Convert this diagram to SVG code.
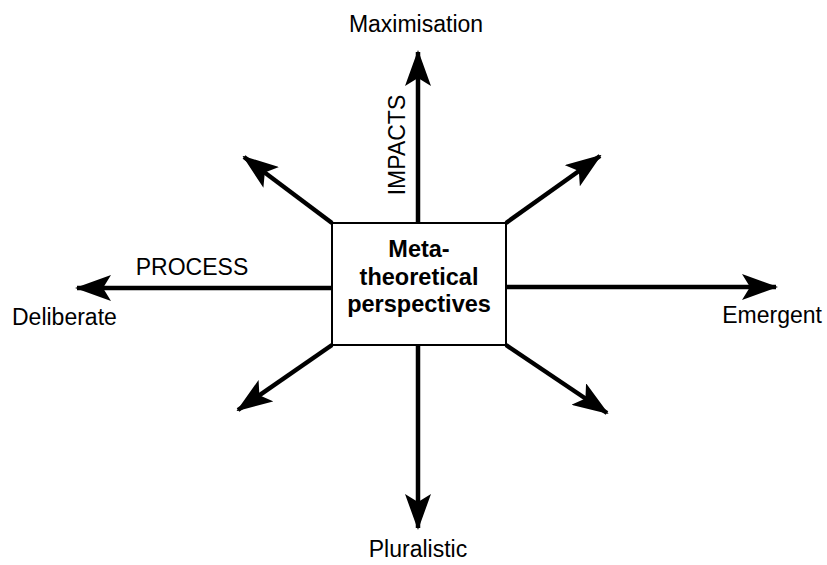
<svg xmlns="http://www.w3.org/2000/svg" width="827" height="565" viewBox="0 0 827 565">
<style>
.t{font-family:"Liberation Sans",Arial,sans-serif;font-size:23px;fill:#000}
.b{font-family:"Liberation Sans",Arial,sans-serif;font-size:23.5px;font-weight:bold;fill:#000}
.s{stroke:#000;stroke-width:4.5;fill:none}
</style>
<defs>
<marker id="ah" markerUnits="userSpaceOnUse" markerWidth="36" markerHeight="26" viewBox="0 0 36 26" refX="34" refY="13" orient="auto">
<path d="M0,0 L36,13 L0,26 L8,13 Z" fill="#000"/>
</marker>
</defs>
<g id="connectors">
<line class="s" x1="418" y1="223" x2="418" y2="52" marker-end="url(#ah)"/>
<line class="s" x1="418" y1="345" x2="418" y2="528" marker-end="url(#ah)"/>
<line class="s" x1="332" y1="288" x2="77" y2="288" marker-end="url(#ah)"/>
<line class="s" x1="506" y1="287" x2="776" y2="287" marker-end="url(#ah)"/>
<line class="s" x1="332" y1="223" x2="244" y2="157" marker-end="url(#ah)"/>
<line class="s" x1="506" y1="223" x2="600" y2="156" marker-end="url(#ah)"/>
<line class="s" x1="332" y1="345" x2="238" y2="410" marker-end="url(#ah)"/>
<line class="s" x1="506" y1="345" x2="607" y2="413" marker-end="url(#ah)"/>
</g>
<g id="center">
<rect x="332" y="223" width="174" height="122" fill="#fff" stroke="#000" stroke-width="2"/>
<text class="b" x="419" y="257" text-anchor="middle">Meta-</text>
<text class="b" x="419" y="285" text-anchor="middle">theoretical</text>
<text class="b" x="419" y="312" text-anchor="middle">perspectives</text>
</g>
<g id="labels">
<text class="t" x="416" y="32" text-anchor="middle">Maximisation</text>
<text class="t" transform="translate(405,145) rotate(-90)" text-anchor="middle">IMPACTS</text>
<text class="t" x="192" y="275" text-anchor="middle">PROCESS</text>
<text class="t" x="12" y="325">Deliberate</text>
<text class="t" x="822" y="323" text-anchor="end">Emergent</text>
<text class="t" x="418" y="557" text-anchor="middle">Pluralistic</text>
</g>
</svg>
